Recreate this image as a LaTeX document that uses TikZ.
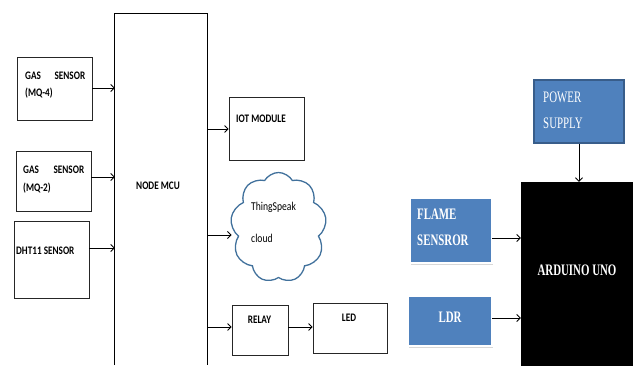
\documentclass[tikz,border=0pt]{standalone}
\usepackage{fontspec}
\usetikzlibrary{arrows.meta,shapes.symbols,shadows}
\newfontfamily\lfont[FakeStretch=0.8]{Carlito}
\newfontfamily\rfont[FakeStretch=0.68]{Liberation Serif}
\definecolor{obl}{HTML}{4F81BD}
\definecolor{obd}{HTML}{385D8A}
\definecolor{cld}{HTML}{41719C}
\tikzset{
  box/.style={draw=black!85, line width=0.8pt, inner sep=0pt},
  bluebox/.style={fill=obl, draw=obd, line width=1.6pt, inner sep=0pt},
  shadbox/.style={fill=obl, draw=white, line width=2.5pt, inner sep=0pt,
    drop shadow={shadow xshift=1pt, shadow yshift=-1.5pt, fill=black!30}},
  ltxt/.style={inner sep=0pt, anchor=west, font=\lfont\bfseries\fontsize{11.5}{12}\selectfont},
  ctxt/.style={inner sep=0pt, anchor=west, font=\lfont\fontsize{12}{12}\selectfont},
  rtxt/.style={inner sep=0pt, anchor=west, text=white, font=\rfont\fontsize{16}{17}\selectfont},
  arr/.style={-{Straight Barb[length=3.5pt,width=7pt]}, line width=0.8pt}
}
\begin{document}
\begin{tikzpicture}[x=1pt,y=-1pt]
\useasboundingbox (0,0) rectangle (633,365);
% left sensors
\node[box, minimum width=75, minimum height=63] (mq4) at (54.5,88.5) {};
\node[box, minimum width=75, minimum height=60] (mq2) at (53.5,181) {};
\node[box, minimum width=75, minimum height=77] (dht) at (51.5,259.5) {};
\node[ltxt] (t1) at (25,75.5) {\makebox[60pt][s]{GAS\hfill SENSOR}};
\node[ltxt] (t2) at (25,93) {(MQ-4)};
\node[ltxt] (t3) at (23,170) {\makebox[61pt][s]{GAS\hfill SENSOR}};
\node[ltxt] (t4) at (23,188) {(MQ-2)};
\node[ltxt] (t5) at (16,251) {DHT11 SENSOR};
% MCU
\node[inner sep=0pt, minimum width=92, minimum height=351] (mcu) at (161,189.5) {};
\draw[line width=0.8pt] (mcu.south west) -- (mcu.north west) -- (mcu.north east) -- (mcu.south east);
\node[ltxt, anchor=center] (tmcu) at (158,186) {NODE MCU};
% right of MCU
\node[box, minimum width=75, minimum height=63] (iot) at (266.5,128.5) {};
\node[ltxt] (tiot) at (236,119) {IOT MODULE};
\node[cloud, cloud puffs=9, cloud puff arc=120, draw=cld, line width=1.3pt, fill=white,
  minimum width=96, minimum height=110, inner sep=0pt] (cloud) at (278.5,227.5) {};
\node[ctxt] (tc1) at (251,207) {ThingSpeak};
\node[ctxt] (tc2) at (251,238) {cloud};
\node[box, minimum width=56, minimum height=50] (relay) at (260,330) {};
\node[ltxt, anchor=center] (trelay) at (259.5,320) {RELAY};
\node[box, minimum width=74, minimum height=50] (led) at (350,328) {};
\node[ltxt, anchor=center] (tled) at (349,318) {LED};
% arduino side
\node[bluebox, minimum width=90, minimum height=63] (power) at (579,111.5) {};
\node[rtxt] (tp1) at (543,97) {POWER};
\node[rtxt] (tp2) at (543,123) {SUPPLY};
\node[fill=black, inner sep=0pt, minimum width=112, minimum height=184] (ard) at (577,274) {};
\node[rtxt, anchor=center, font=\rfont\bfseries\fontsize{16}{17}\selectfont] (tard) at (577,270) {ARDUINO UNO};
\node[shadbox, minimum width=82, minimum height=65] (flame) at (451,230.5) {};
\node[rtxt, font=\rfont\bfseries\fontsize{16}{17}\selectfont] (tf1) at (417,214) {FLAME};
\node[rtxt, font=\rfont\bfseries\fontsize{16}{17}\selectfont] (tf2) at (417,240) {SENSROR};
\node[shadbox, minimum width=84, minimum height=50] (ldr) at (450,321) {};
\node[rtxt, anchor=center, font=\rfont\bfseries\fontsize{16}{17}\selectfont] (tldr) at (450,317) {LDR};
% connectors
\coordinate (c1) at (92,88);
\coordinate (c2) at (91,177);
\coordinate (c3) at (89,248);
\draw[arr] (c1) -- (c1 -| mcu.west);
\draw[arr] (c2) -- (c2 -| mcu.west);
\draw[arr] (c3) -- (c3 -| mcu.west);
\coordinate (m1) at (207,129);
\coordinate (m2) at (207,235);
\coordinate (m3) at (207,327);
\draw[arr] (m1) -- (m1 -| iot.west);
\draw[arr] (m2) -- (m2 -| cloud.west);
\draw[arr] (m3) -- (m3 -| relay.west);
\coordinate (r1) at (288,327);
\draw[arr] (r1) -- (r1 -| led.west);
\draw[arr] (power.south) -- (power.south |- ard.north);
\coordinate (f1) at (492,238);
\coordinate (l1) at (492,318);
\draw[arr] (f1) -- (f1 -| ard.west);
\draw[arr] (l1) -- (l1 -| ard.west);
\end{tikzpicture}
\end{document}
